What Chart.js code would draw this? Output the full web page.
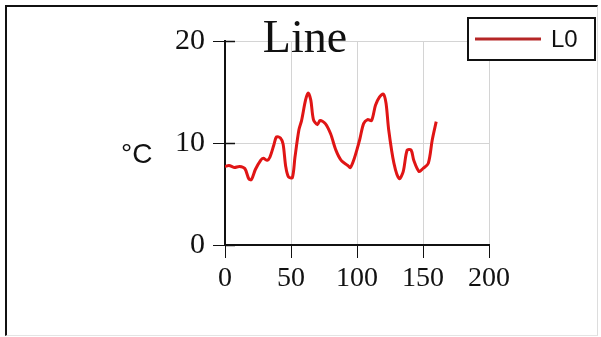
<!DOCTYPE html>
<html>
<head>
<meta charset="utf-8">
<script src="https://cdn.jsdelivr.net/npm/chart.js@4/dist/chart.umd.min.js"></script>
<style>
  body { margin: 0; background: #fff; }
  #wrap { position: relative; width: 601px; height: 337px; overflow: hidden; }
  #frame { position: absolute; left: 5px; top: 5px; width: 590px; height: 328px;
    border-top: 2px solid #111; border-left: 2px solid #111;
    border-right: 1px solid #ddd; border-bottom: 1px solid #e4e4e4; }
  canvas { position: absolute; left: 0; top: 0; }
</style>
</head>
<body>
<div id="wrap">
  <div id="frame"></div>
  <canvas id="grafica" width="601" height="337"></canvas>
</div>
<script>
// DATOS
const xs = [0, 3, 7, 11, 15, 18, 20, 23, 27, 29, 32, 34, 37, 39, 42, 44, 46, 48, 51, 53, 56, 58, 61, 63, 65, 67, 70, 72, 76, 80, 84, 88, 93, 95, 98, 102, 105, 108, 111, 114, 117, 120, 122, 124, 128, 132, 135, 138, 141, 143, 147, 150, 154, 157, 160];
const temps = [7.7, 7.8, 7.6, 7.7, 7.5, 6.5, 6.4, 7.4, 8.3, 8.5, 8.3, 8.6, 9.8, 10.6, 10.5, 9.9, 7.7, 6.7, 6.6, 8.6, 11.3, 12.2, 14.2, 14.9, 14.2, 12.3, 11.8, 12.2, 11.9, 10.9, 9.3, 8.3, 7.8, 7.6, 8.5, 10.3, 11.9, 12.3, 12.2, 13.7, 14.5, 14.8, 13.9, 11.3, 8.0, 6.5, 7.2, 9.3, 9.3, 8.3, 7.2, 7.5, 8.0, 10.3, 12.1];
const xTicks = [0, 50, 100, 150, 200];
const yTicks = [0, 10, 20];
const serieNombre = "L0";
const titulo = "Line";
const unidad = "°C";

const rojo = "#e01515";

// titulo, etiqueta del eje y, marcas internas y leyenda con caja
const extras = {
  id: "extras",
  afterDraw(chart) {
    const ctx = chart.ctx;
    const sy = chart.scales.y;
    const left = chart.chartArea.left;
    ctx.save();

    // marcas del eje y que cruzan hacia adentro
    ctx.strokeStyle = "#111";
    ctx.lineWidth = 1.5;
    yTicks.forEach((v) => {
      const py = Math.round(sy.getPixelForValue(v)) + 0.5;
      ctx.beginPath();
      ctx.moveTo(left, py);
      ctx.lineTo(left + 10, py);
      ctx.stroke();
    });

    ctx.fillStyle = "#111";
    ctx.font = "46px 'Liberation Serif'";
    ctx.textAlign = "center";
    ctx.textBaseline = "alphabetic";
    ctx.fillText(titulo, 305, 52);

    ctx.font = "28px 'Liberation Sans'";
    ctx.textAlign = "left";
    ctx.textBaseline = "middle";
    ctx.fillText(unidad, 121, sy.getPixelForValue(8.8));

    // leyenda
    ctx.fillStyle = "#fff";
    ctx.fillRect(468, 18, 127, 42);
    ctx.strokeStyle = "#111";
    ctx.lineWidth = 2;
    ctx.strokeRect(468, 18, 127, 42);
    ctx.strokeStyle = "#b52626";
    ctx.lineWidth = 3;
    ctx.beginPath();
    ctx.moveTo(475, 39);
    ctx.lineTo(541, 39);
    ctx.stroke();
    ctx.fillStyle = "#111";
    ctx.font = "24px 'Liberation Sans'";
    ctx.textBaseline = "middle";
    ctx.fillText(serieNombre, 551, 40);
    ctx.restore();
  }
};

new Chart(document.getElementById("grafica"), {
  type: "line",
  data: {
    datasets: [{
      label: serieNombre,
      data: xs.map((x, i) => ({ x: x, y: temps[i] })),
      borderColor: rojo,
      borderWidth: 3,
      pointRadius: 0,
      tension: 0.3,
      fill: false
    }]
  },
  options: {
    responsive: false,
    animation: false,
    layout: { padding: { top: 41, right: 112, left: 0, bottom: 0 } },
    plugins: { legend: { display: false }, title: { display: false }, tooltip: { enabled: false } },
    scales: {
      x: {
        type: "linear",
        min: 0, max: 200,
        afterBuildTicks: (s) => { s.ticks = xTicks.map((v) => ({ value: v })); },
        afterFit: (s) => { s.height = 92; },
        grid: { color: "#d4d4d4", tickColor: "#111", tickLength: 13, drawTicks: true },
        border: { color: "#111", width: 2 },
        ticks: { color: "#111", font: { family: "Liberation Serif", size: 28 }, padding: 4, maxRotation: 0 }
      },
      y: {
        min: 0, max: 20,
        afterBuildTicks: (s) => { s.ticks = yTicks.map((v) => ({ value: v })); },
        afterFit: (s) => { s.width = 225; },
        grid: { color: "#d4d4d4", tickColor: "#111", tickLength: 12 },
        border: { color: "#111", width: 2 },
        ticks: { color: "#111", font: { family: "Liberation Serif", size: 30 }, padding: 8 }
      }
    }
  },
  plugins: [extras]
});
</script>
</body>
</html>
